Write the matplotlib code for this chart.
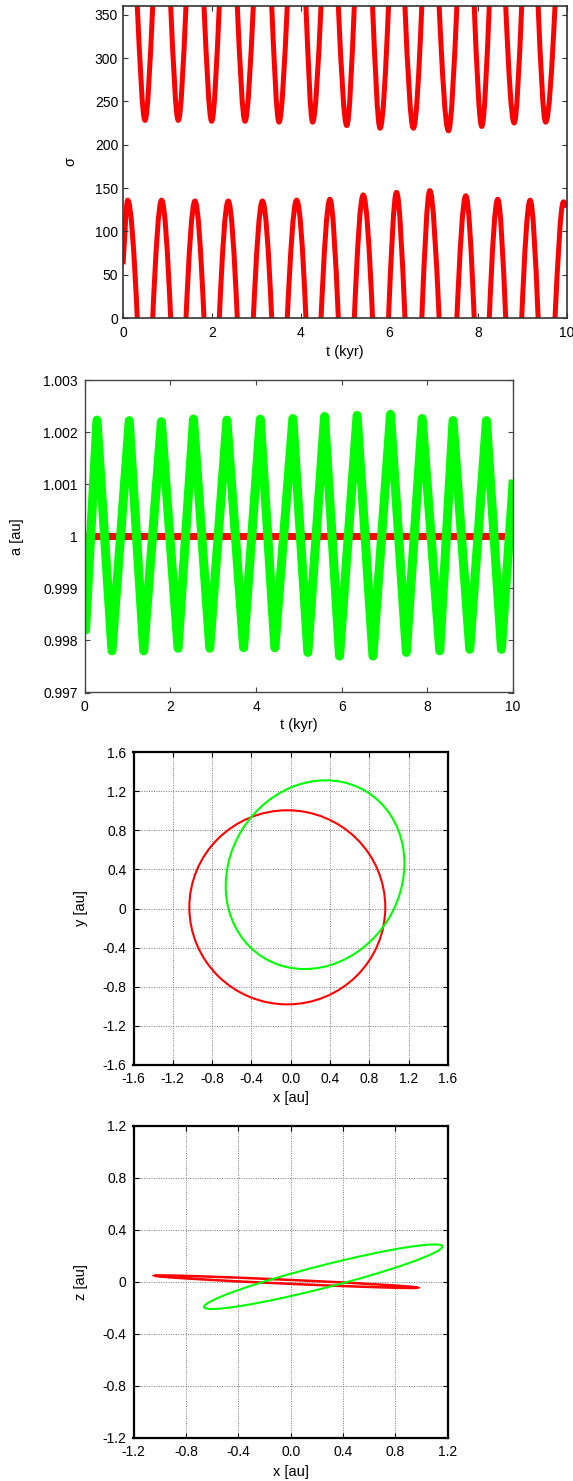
import numpy as np
import matplotlib
matplotlib.use('Agg')
import matplotlib.pyplot as pyplot
from matplotlib.patches import Ellipse, PathPatch
from matplotlib.path import Path

pyplot.rcParams['font.family'] = ['Liberation Sans', 'DejaVu Sans']
pyplot.rcParams['font.size'] = 10

# ---------------------------------------------------------------------------
# Panel 1: resonant angle sigma [deg] vs t [kyr] (wraps at 0/360)
sigma_start = [0.0, 62.0]
sigma_end = [10.0, 128.0]
sigma_peak_t = [0.105, 0.87, 1.62, 2.37, 3.14, 3.91, 4.66, 5.41, 6.16, 6.91,
                7.72, 8.44, 9.17, 9.92]
sigma_peak = [136, 136, 135, 135, 135, 136, 137, 142, 145, 147, 141, 137, 136, 134]
sigma_trough_t = [0.495, 1.246, 1.997, 2.748, 3.514, 4.27, 5.04, 5.79, 6.54,
                  7.33, 8.08, 8.81, 9.52]
sigma_trough = [228, 228, 227, 227, 226, 226, 222, 219, 219, 216, 221, 225, 226]
sigma_cross_t = [0.322, 0.669, 1.074, 1.419, 1.824, 2.169, 2.574, 2.935, 3.349,
                 3.70, 4.12, 4.46, 4.85, 5.21, 5.62, 5.98, 6.35, 6.73, 7.12,
                 7.52, 7.91, 8.25, 8.62, 8.98, 9.35, 9.73]

# Panel 2: semi-major axis [au] vs t [kyr]
a_red_t = [0.0, 10.0]
a_red = [1.0, 1.0]
a_green_t = [0.0, 0.02, 0.287, 0.637, 1.04, 1.378, 1.79, 2.18, 2.54, 2.92, 3.32,
             3.71, 4.10, 4.44, 4.86, 5.21, 5.60, 5.95, 6.36, 6.73, 7.14, 7.51,
             7.88, 8.29, 8.60, 8.99, 9.38, 9.73, 10.0]
a_green = [0.9986, 0.9982, 1.00223, 0.99780, 1.00222, 0.99780, 1.00220, 0.99785,
           1.00225, 0.99785, 1.00223, 0.99786, 1.00225, 0.99786, 1.00226,
           0.99777, 1.00230, 0.99770, 1.00232, 0.99770, 1.00234, 0.99777,
           1.00226, 0.99780, 1.00222, 0.99783, 1.00222, 0.99783, 1.0010]

# Panel 3/4: orbits, ellipse fits (cx, cy, width, height, angle)
red_xy = [-0.034, 0.012, 1.995, 1.988, 0.0]
green_xy = [0.2485, 0.3465, 1.998, 1.748, 58.6]
red_xz = [-0.034, 0.0, 2.012, 0.03, -2.62]
green_xz = [0.2485, 0.0385, 1.878, 0.173, 14.43]

xy_ticks = [-1.6, -1.2, -0.8, -0.4, 0.0, 0.4, 0.8, 1.2, 1.6]
xy_xlabels = ['-1.6', '-1.2', '-0.8', '-0.4', '0.0', '0.4', '0.8', '1.2', '1.6']
xy_ylabels = ['-1.6', '-1.2', '-0.8', '-0.4', '0', '0.4', '0.8', '1.2', '1.6']
xz_ticks = [-1.2, -0.8, -0.4, 0.0, 0.4, 0.8, 1.2]
xz_xlabels = ['-1.2', '-0.8', '-0.4', '0.0', '0.4', '0.8', '1.2']
xz_ylabels = ['-1.2', '-0.8', '-0.4', '0', '0.4', '0.8', '1.2']
a_ticks = [0.997, 0.998, 0.999, 1.0, 1.001, 1.002, 1.003]
a_labels = ['0.997', '0.998', '0.999', '1', '1.001', '1.002', '1.003']

W, H = 573.0, 1481.0
fig = pyplot.figure(figsize=(W / 100, H / 100), dpi=100)


def add_axes(left, right, top, bottom):
    return fig.add_axes([left / W, 1 - bottom / H, (right - left) / W, (bottom - top) / H])


def style(ax, color, lw, xpad, ypad):
    for s in ax.spines.values():
        s.set_color(color)
        s.set_linewidth(lw)
    ax.tick_params(direction='in', top=True, right=True, length=3.5, width=0.8,
                   color=color, labelsize=10)
    ax.tick_params(axis='x', pad=xpad)
    ax.tick_params(axis='y', pad=ypad)


def labels(ax, xl, yl, xy, yx):
    ax.set_xlabel(xl, fontsize=10.5)
    ax.set_ylabel(yl, fontsize=10.5)
    ax.xaxis.set_label_coords(0.5, xy)
    ax.yaxis.set_label_coords(yx, 0.5)
    ax.xaxis.label.set_va('center')
    ax.yaxis.label.set_va('center')


# ---- panel 1: smooth libration curve through the read extrema / wrap crossings
ax1 = add_axes(123, 567, 6, 318)
nodes = [(t, v, 'peak') for t, v in zip(sigma_peak_t, sigma_peak)]
nodes += [(t, v - 360.0, 'trough') for t, v in zip(sigma_trough_t, sigma_trough)]
nodes += [(t, 0.0, 'cross') for t in sigma_cross_t]
nodes.sort(key=lambda n: n[0])
nodes = [(sigma_start[0], sigma_start[1], 'start')] + nodes
nodes.append((sigma_end[0], sigma_end[1], 'end'))
nt = [n[0] for n in nodes]
nu = [n[1] for n in nodes]
slopes = []
for i, n in enumerate(nodes):
    if n[2] == 'cross':
        slopes.append(np.pi / 2 * (nu[i + 1] - nu[i - 1]) / (nt[i + 1] - nt[i - 1]))
    elif n[2] == 'start':
        slopes.append((nu[1] - nu[0]) / (nt[1] - nt[0]))
    elif n[2] == 'end':
        slopes.append((nu[-1] - nu[-2]) / (nt[-1] - nt[-2]))
    else:
        slopes.append(0.0)

verts, codes = [], []
last_off = None
for i in range(len(nodes) - 1):
    t0, u0, t1, u1 = nt[i], nu[i], nt[i + 1], nu[i + 1]
    off = 0.0 if max(u0, u1) > 0 else 360.0
    dt = t1 - t0
    if off != last_off:
        verts.append((t0, u0 + off))
        codes.append(Path.MOVETO)
    verts += [(t0 + dt / 3, u0 + slopes[i] * dt / 3 + off),
              (t1 - dt / 3, u1 - slopes[i + 1] * dt / 3 + off),
              (t1, u1 + off)]
    codes += [Path.CURVE4] * 3
    last_off = off
ax1.add_patch(PathPatch(Path(verts, codes), fill=False, edgecolor='#ff0000',
                        lw=3.6, joinstyle='round', capstyle='butt'))
ax1.set_xlim(0, 10)
ax1.set_ylim(0, 360)
ax1.set_xticks([0, 2, 4, 6, 8, 10])
ax1.set_yticks([0, 50, 100, 150, 200, 250, 300, 350])
style(ax1, '#333333', 1.2, 5.5, 3.5)
labels(ax1, 't (kyr)', 'σ', -0.109, -0.118)

# ---- panel 2
ax2 = add_axes(84.7, 513, 380, 692.5)
ax2.plot(a_red_t, a_red, color='#ff0000', lw=5.0, solid_capstyle='butt')
ax2.plot(a_green_t, a_green, color='#00ff00', lw=6.5, solid_joinstyle='round')
ax2.set_xlim(0, 10)
ax2.set_ylim(0.997, 1.003)
ax2.set_xticks([0, 2, 4, 6, 8, 10])
ax2.set_yticks(a_ticks)
ax2.set_yticklabels(a_labels)
style(ax2, '#444444', 1.0, 5.5, 5.0)
labels(ax2, 't (kyr)', 'a [au]', -0.104, -0.159)

# ---- panel 3
ax3 = add_axes(133.5, 447.8, 752.3, 1064.7)
for p, c in [(red_xy, '#ff0000'), (green_xy, '#00ff00')]:
    ax3.add_patch(Ellipse((p[0], p[1]), p[2], p[3], angle=p[4], fill=False,
                          edgecolor=c, lw=1.5))
ax3.set_xlim(-1.6, 1.6)
ax3.set_ylim(-1.6, 1.6)
ax3.set_xticks(xy_ticks)
ax3.set_xticklabels(xy_xlabels)
ax3.set_yticks(xy_ticks)
ax3.set_yticklabels(xy_ylabels)
ax3.set_axisbelow(True)
ax3.grid(True, linestyle=(0, (1, 1.5)), color='#777777', linewidth=0.7)
style(ax3, '#000000', 1.6, 5.5, 5.0)
labels(ax3, 'x [au]', 'y [au]', -0.105, -0.167)

# ---- panel 4
ax4 = add_axes(133.5, 447.8, 1125.7, 1437.7)
for p, c, w in [(red_xz, '#ff0000', 1.8), (green_xz, '#00ff00', 1.5)]:
    ax4.add_patch(Ellipse((p[0], p[1]), p[2], p[3], angle=p[4], fill=False,
                          edgecolor=c, lw=w))
ax4.set_xlim(-1.2, 1.2)
ax4.set_ylim(-1.2, 1.2)
ax4.set_xticks(xz_ticks)
ax4.set_xticklabels(xz_xlabels)
ax4.set_yticks(xz_ticks)
ax4.set_yticklabels(xz_ylabels)
ax4.set_axisbelow(True)
ax4.grid(True, linestyle=(0, (1, 1.5)), color='#777777', linewidth=0.7)
style(ax4, '#000000', 1.6, 5.5, 5.0)
labels(ax4, 'x [au]', 'z [au]', -0.11, -0.167)

fig.savefig('out.png', dpi=100)
